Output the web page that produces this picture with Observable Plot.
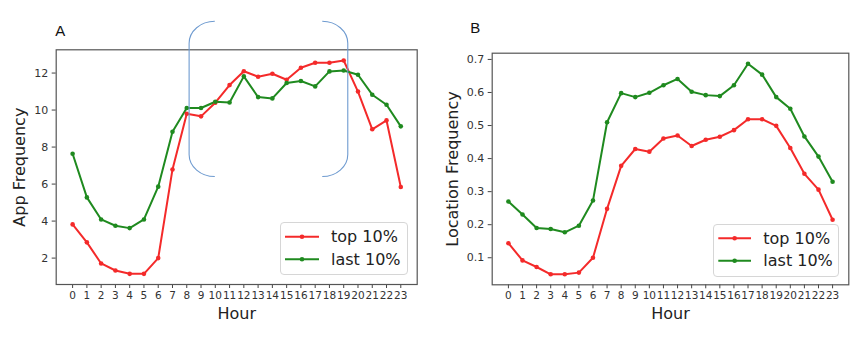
<!DOCTYPE html>
<html>
<head>
<meta charset="utf-8">
<script src="https://cdn.jsdelivr.net/npm/d3@7"></script>
<script src="https://cdn.jsdelivr.net/npm/@observablehq/plot@0.6"></script>
<style>
  html, body { margin: 0; padding: 0; background: #fff; }
  #wrap { position: relative; width: 864px; height: 347px; overflow: hidden; font-family: "DejaVu Sans", sans-serif; }
  .panel { position: absolute; top: 0; }
  .legend { position: absolute; box-sizing: border-box; border: 1px solid #d6d6d6; border-radius: 4px; background: rgba(255,255,255,0.85); }
</style>
</head>
<body>
<div id="wrap"></div>
<script>
// ---- data ----
const hours = [0,1,2,3,4,5,6,7,8,9,10,11,12,13,14,15,16,17,18,19,20,21,22,23];
const seriesNames = ["top 10%", "last 10%"];
const appTop  = [3.82,2.85,1.71,1.33,1.15,1.15,2.00,6.79,9.80,9.66,10.40,11.35,12.10,11.80,11.96,11.64,12.29,12.56,12.56,12.68,11.00,8.96,9.44,5.84];
const appLast = [7.64,5.28,4.09,3.75,3.62,4.09,5.86,8.83,10.11,10.11,10.45,10.41,11.82,10.70,10.63,11.46,11.57,11.28,12.09,12.14,11.91,10.83,10.29,9.12];
const locTop  = [0.144,0.092,0.072,0.050,0.050,0.055,0.100,0.248,0.378,0.429,0.421,0.461,0.470,0.438,0.457,0.466,0.486,0.519,0.519,0.499,0.432,0.354,0.306,0.215];
const locLast = [0.270,0.231,0.190,0.187,0.177,0.197,0.273,0.510,0.598,0.586,0.599,0.622,0.641,0.602,0.592,0.589,0.622,0.687,0.654,0.586,0.551,0.467,0.406,0.330];
const appTicks = [2,4,6,8,10,12];
const locTicks = [0.1,0.2,0.3,0.4,0.5,0.6,0.7];
// annotation brackets on panel A (in data units: hours / app frequency)
const bracketLeftHours  = [8.2, 10.0];
const bracketRightHours = [19.32, 17.53];
const bracketValues = [14.77, 6.38];

const colors = {"top 10%": "#f42a2a", "last 10%": "#1f8a1f"};

function toRows(top, last) {
  const rows = [];
  hours.forEach((h, i) => {
    rows.push({hour: h, value: top[i], series: seriesNames[0]});
    rows.push({hour: h, value: last[i], series: seriesNames[1]});
  });
  return rows;
}
function padDomain(vals) {
  const lo = d3.min(vals), hi = d3.max(vals), m = (hi - lo) * 0.05;
  return [lo - m, hi + m];
}

function panel(opts) {
  const rows = toRows(opts.top, opts.last);
  const font = "DejaVu Sans, sans-serif";
  const plot = Plot.plot({
    width: opts.width,
    height: 347,
    marginLeft: opts.ml, marginRight: opts.mr, marginTop: opts.mt, marginBottom: opts.mb,
    style: {fontFamily: font, background: "transparent", overflow: "visible"},
    x: {domain: [-1.15, 24.15], label: null},
    y: {domain: padDomain(opts.top.concat(opts.last)), label: null},
    color: {domain: seriesNames, range: seriesNames.map(s => colors[s])},
    marks: [
      Plot.axisX({ticks: hours, tickFormat: d => String(d), tickSize: 4, tickPadding: 3, fontSize: 10.5, color: "#333", stroke: "#444", label: null}),
      Plot.axisY({ticks: opts.yticks, tickFormat: opts.fmt, tickSize: 4, tickPadding: 4, fontSize: 11, color: "#333", stroke: "#444", label: null}),
      Plot.line(rows, {x: "hour", y: "value", z: "series", stroke: "series", strokeWidth: 2}),
      Plot.dot(rows, {x: "hour", y: "value", fill: "series", r: 2.3}),
      Plot.frame({stroke: "#555", strokeWidth: 1.2}),
      Plot.text([opts.ylabel], {frameAnchor: "left", dx: opts.ylabDx, rotate: -90, textAnchor: "middle", lineAnchor: "middle", fontSize: 16, fill: "#222"}),
      Plot.text(["Hour"], {frameAnchor: "bottom", dy: 29, textAnchor: "middle", lineAnchor: "middle", fontSize: 16, fill: "#222"}),
      Plot.text([opts.letter], {frameAnchor: "top-left", dx: opts.letDx, dy: opts.letDy, textAnchor: "middle", lineAnchor: "middle", fontSize: 15, fill: "#111", fontFamily: "Liberation Sans, Arial, sans-serif"})
    ]
  });
  plot.classList.add("panel");
  plot.style.left = opts.left + "px";
  return plot;
}

const wrap = document.getElementById("wrap");

const pA = panel({
  width: 430, left: 0, ml: 55.7, mr: 13.3, mt: 49.3, mb: 63,
  top: appTop, last: appLast, yticks: appTicks, fmt: d => String(d),
  ylabel: "App Frequency", ylabDx: -36, letter: "A", letDx: 4, letDy: -19
});
const pB = panel({
  width: 434, left: 430, ml: 61.7, mr: 15.7, mt: 52.7, mb: 62.7,
  top: locTop, last: locLast, yticks: locTicks, fmt: d => d.toFixed(1),
  ylabel: "Location Frequency", ylabDx: -39, letter: "B", letDx: -17, letDy: -25
});
wrap.appendChild(pA);
wrap.appendChild(pB);

// brackets on panel A drawn through its scales
(function() {
  const sx = pA.scale("x"), sy = pA.scale("y");
  const X = d3.scaleLinear(sx.domain, sx.range);
  const Y = d3.scaleLinear(sy.domain, sy.range);
  const yt = Y(bracketValues[0]), yb = Y(bracketValues[1]);
  const ry = 22;
  const svg = d3.select(pA);
  function bracket(hs, sweepTop) {
    const xv = X(hs[0]), xe = X(hs[1]);
    const rx = Math.abs(xe - xv);
    const s = sweepTop;
    return `M${xe},${yt} A${rx},${ry} 0 0 ${s} ${xv},${yt + ry} L${xv},${yb - ry} A${rx},${ry} 0 0 ${s} ${xe},${yb}`;
  }
  svg.append("path").attr("d", bracket(bracketLeftHours, 0)).attr("fill", "none").attr("stroke", "#6f9bd0").attr("stroke-width", 1.1);
  svg.append("path").attr("d", bracket(bracketRightHours, 1)).attr("fill", "none").attr("stroke", "#6f9bd0").attr("stroke-width", 1.1);
})();

// legends
function legend(left, top, w, h, lx0, lx1, ry, tx) {
  const div = document.createElement("div");
  div.className = "legend";
  Object.assign(div.style, {left: left + "px", top: top + "px", width: w + "px", height: h + "px"});
  const svg = d3.create("svg").attr("width", w).attr("height", h).style("position", "absolute").style("left", "-1px").style("top", "-1px");
  seriesNames.forEach((s, i) => {
    svg.append("line").attr("x1", lx0).attr("x2", lx1).attr("y1", ry[i]).attr("y2", ry[i]).attr("stroke", colors[s]).attr("stroke-width", 2);
    svg.append("circle").attr("cx", (lx0 + lx1) / 2).attr("cy", ry[i]).attr("r", 2.3).attr("fill", colors[s]);
    svg.append("text").attr("x", tx).attr("y", ry[i]).attr("dy", "0.35em").attr("font-size", 16).attr("fill", "#222").attr("font-family", "DejaVu Sans, sans-serif").text(s);
  });
  div.appendChild(svg.node());
  wrap.appendChild(div);
}
legend(280, 222, 128, 53, 5, 39, [14.7, 37.3], 51);
legend(713, 224, 126, 53, 5.3, 38, [14.3, 36.7], 50.3);
</script>
</body>
</html>
